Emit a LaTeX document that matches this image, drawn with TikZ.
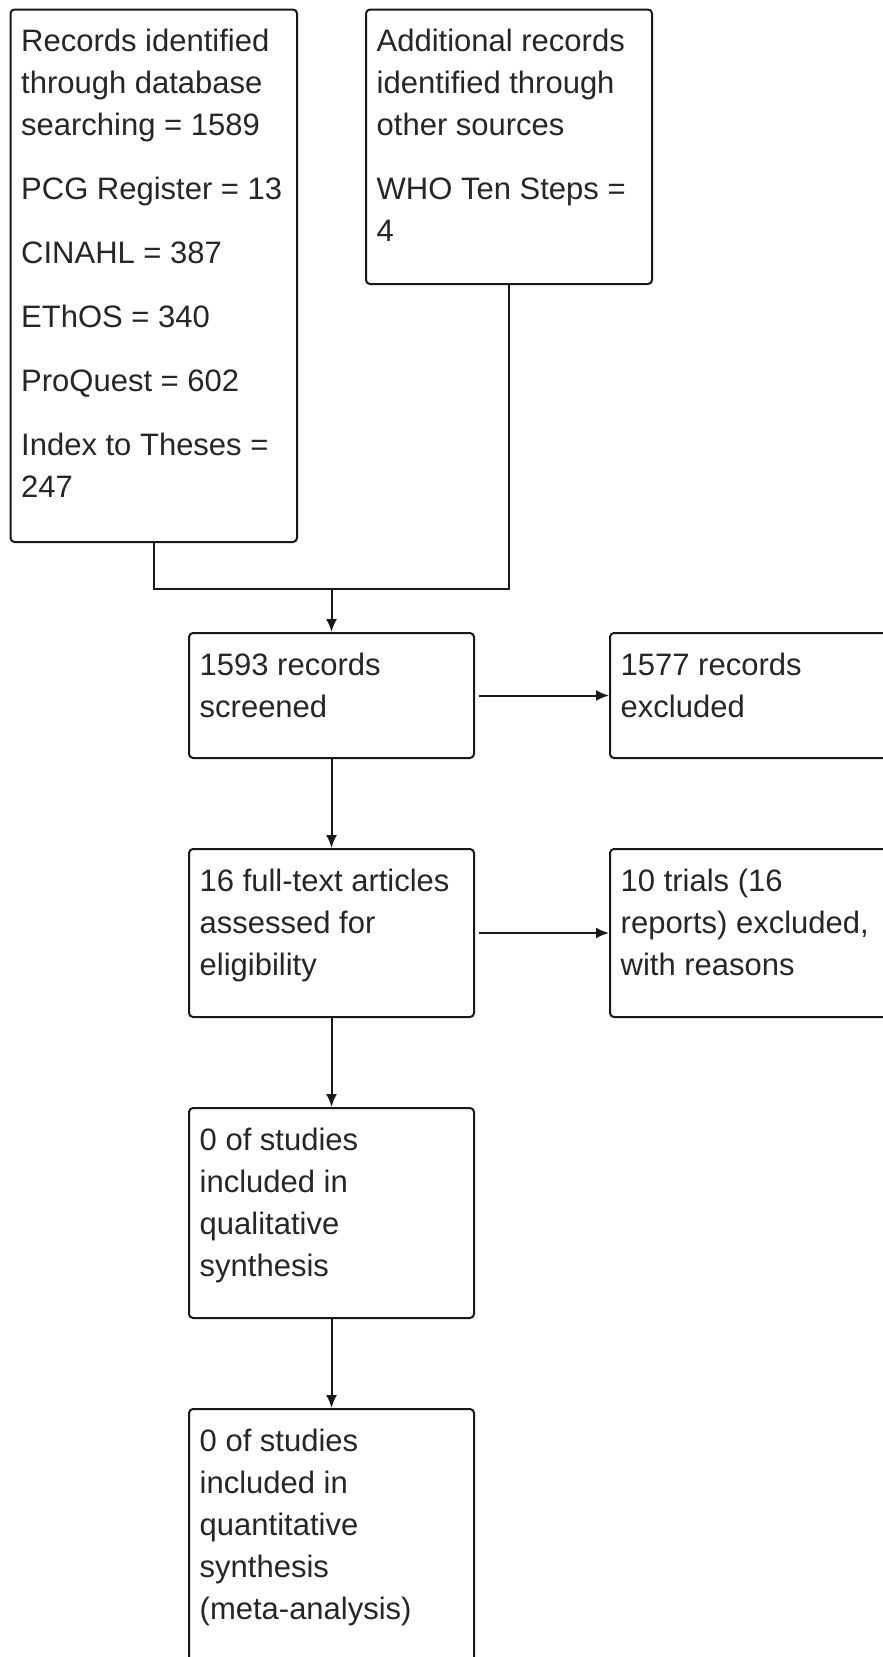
\documentclass[tikz,border=0pt]{standalone}
\usepackage{fontspec}
\setmainfont{Liberation Sans}
\usetikzlibrary{arrows.meta,calc}
\begin{document}
\begin{tikzpicture}[x=1pt,y=-1pt,
  box/.style={draw=black!90, line width=2pt, rounded corners=4pt, inner sep=0pt, anchor=north west},
  txt/.style={anchor=base west, inner sep=0pt, text=black!85, font=\fontsize{31}{42}\selectfont},
  link/.style={draw=black!90, line width=2pt},
  arr/.style={link, -{Latex[length=13pt,width=11pt]}}]
\clip (0,0) rectangle (883,1657);
\fill[white] (0,0) rectangle (883,1657);
% boxes
\node[box, minimum width=286.5pt, minimum height=532.5pt] (b1) at (9.5,8.5) {};
\node[box, minimum width=286pt, minimum height=274.5pt] (b2) at (365,8.5) {};
\node[box, minimum width=285pt, minimum height=125pt] (b3) at (188,632) {};
\node[box, minimum width=300pt, minimum height=125pt] (b4) at (609,632) {};
\node[box, minimum width=285pt, minimum height=168pt] (b5) at (188,848) {};
\node[box, minimum width=300pt, minimum height=168pt] (b6) at (609,848) {};
\node[box, minimum width=285pt, minimum height=210pt] (b7) at (188,1107) {};
\node[box, minimum width=285pt, minimum height=280pt] (b8) at (188,1408) {};
% texts
\node[txt] (t1) at ($(b1.north west)+(11.5,43.4)$) {\begin{tabular}[t]{@{}l@{}}Records identified\\through database\\searching = 1589\\[22pt]PCG Register = 13\\[22pt]CINAHL = 387\\[22pt]EThOS = 340\\[22pt]ProQuest = 602\\[22pt]Index to Theses =\\247\end{tabular}};
\node[txt] (t2) at ($(b2.north west)+(11.5,43.4)$) {\begin{tabular}[t]{@{}l@{}}Additional records\\identified through\\other sources\\[22pt]WHO Ten Steps =\\4\end{tabular}};
\node[txt] (t3) at ($(b3.north west)+(11.5,43.4)$) {\begin{tabular}[t]{@{}l@{}}1593 records\\screened\end{tabular}};
\node[txt] (t4) at ($(b4.north west)+(11.5,43.4)$) {\begin{tabular}[t]{@{}l@{}}1577 records\\excluded\end{tabular}};
\node[txt] (t5) at ($(b5.north west)+(11.5,43.4)$) {\begin{tabular}[t]{@{}l@{}}16 full-text articles\\assessed for\\eligibility\end{tabular}};
\node[txt] (t6) at ($(b6.north west)+(11.5,43.4)$) {\begin{tabular}[t]{@{}l@{}}10 trials (16\\reports) excluded,\\with reasons\end{tabular}};
\node[txt] (t7) at ($(b7.north west)+(11.5,43.4)$) {\begin{tabular}[t]{@{}l@{}}0 of studies\\included in\\qualitative\\synthesis\end{tabular}};
\node[txt] (t8) at ($(b8.north west)+(11.5,43.4)$) {\begin{tabular}[t]{@{}l@{}}0 of studies\\included in\\quantitative\\synthesis\\(meta-analysis)\end{tabular}};
% connectors
\coordinate (j) at ($(b1.south)+(0,46)$);
\draw[link] (b1.south) -- (j) -| (b2.south);
\draw[arr] (b3.north |- j) -- (b3.north);
\draw[arr] ([xshift=3.5pt]b3.east) -- (b4.west);
\draw[arr] (b3.south) -- (b5.north);
\draw[arr] ([xshift=3.5pt]b5.east) -- (b6.west);
\draw[arr] (b5.south) -- (b7.north);
\draw[arr] (b7.south) -- (b8.north);
\end{tikzpicture}
\end{document}
